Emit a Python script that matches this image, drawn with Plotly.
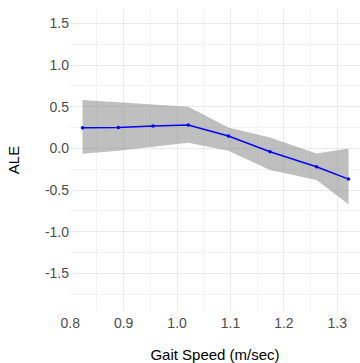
import plotly.graph_objects as go

gait_speed = [0.823, 0.890, 0.955, 1.021, 1.096, 1.174, 1.261, 1.321]
ale = [0.247, 0.252, 0.268, 0.280, 0.148, -0.040, -0.220, -0.368]
ale_upper = [0.58, 0.552, 0.528, 0.50, 0.252, 0.132, -0.06, 0.0]
ale_lower = [-0.065, -0.029, 0.019, 0.067, -0.029, -0.26, -0.38, -0.67]

x_ticks = [0.8, 0.9, 1.0, 1.1, 1.2, 1.3]
y_ticks = [-1.5, -1.0, -0.5, 0.0, 0.5, 1.0, 1.5]

fig = go.Figure()
fig.add_trace(go.Scatter(
    x=gait_speed + gait_speed[::-1],
    y=ale_upper + ale_lower[::-1],
    fill="toself", fillcolor="rgba(128,128,128,0.5)",
    line=dict(width=0), mode="lines", hoverinfo="skip", showlegend=False))
fig.add_trace(go.Scatter(
    x=gait_speed, y=ale, mode="lines+markers",
    line=dict(color="#0000ff", width=1.5),
    marker=dict(color="#0000ff", size=3.5), showlegend=False))

font_family = "Liberation Sans, Arial, sans-serif"
fig.update_layout(
    width=360, height=363,
    margin=dict(l=70, r=0, t=9, b=52),
    paper_bgcolor="white", plot_bgcolor="white",
    font=dict(family=font_family, size=14, color="#4d4d4d"),
    xaxis=dict(
        range=[0.7995, 1.3425], tickvals=x_ticks,
        ticktext=[f"{v:.1f}" for v in x_ticks],
        showgrid=True, gridcolor="#ebebeb", gridwidth=1,
        minor=dict(tickvals=[0.85, 0.95, 1.05, 1.15, 1.25], showgrid=True,
                   gridcolor="#f3f3f3", gridwidth=1),
        zeroline=False, showline=False, ticks="", ticklabelstandoff=2,
        title=dict(text="Gait Speed (m/sec)", font=dict(size=15, color="black"),
                   standoff=19),
        tickfont=dict(size=14, color="#4d4d4d"),
    ),
    yaxis=dict(
        range=[-1.95, 1.672], tickvals=y_ticks,
        ticktext=[f"{v:.1f}" for v in y_ticks],
        showgrid=True, gridcolor="#ebebeb", gridwidth=1,
        minor=dict(tickvals=[-1.75, -1.25, -0.75, -0.25, 0.25, 0.75, 1.25],
                   showgrid=True, gridcolor="#f3f3f3", gridwidth=1),
        zeroline=False, showline=False, ticks="",
        title=dict(text="ALE", font=dict(size=15, color="black"), standoff=21),
        tickfont=dict(size=14, color="#4d4d4d"),
    ),
)

fig.write_html("out.html", config={"displayModeBar": False},
               post_script="document.body.style.margin='0';document.body.style.overflow='hidden';")
